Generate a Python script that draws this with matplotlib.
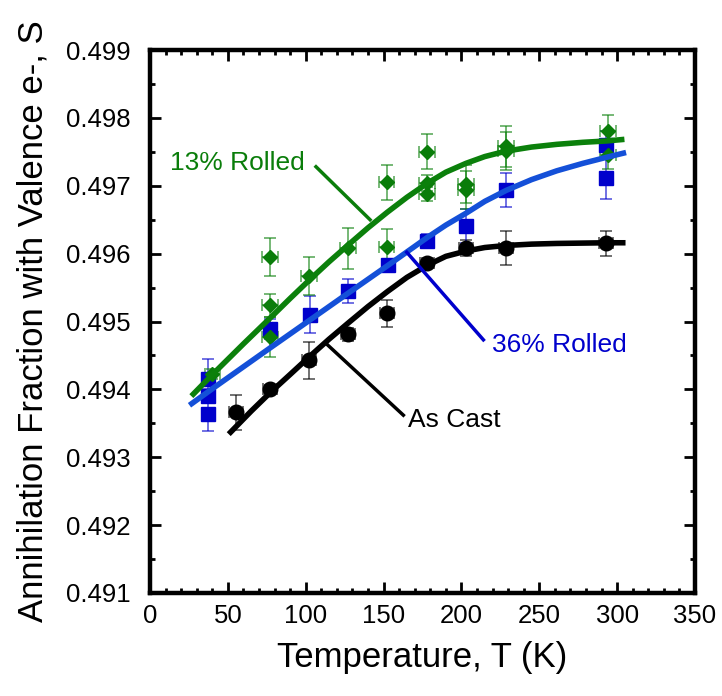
import numpy as np
import matplotlib
matplotlib.use('Agg')
import matplotlib.pyplot as plt
from matplotlib.ticker import MultipleLocator, FormatStrFormatter

plt.rcParams['font.family'] = ['Liberation Sans', 'DejaVu Sans']

# ---- measured points ----
# As Cast
cast_T = [55, 77, 102, 127, 152, 178, 203, 228.6, 293]
cast_S = [0.49366, 0.49400, 0.49443, 0.49481, 0.49512, 0.49586, 0.49608, 0.49608, 0.49615]
cast_yerr = [0.00026, 0.00006, 0.00027, 0.00009, 0.00020, 0.00007, 0.00012, 0.00025, 0.00019]

# 36% Rolled
r36_T = [37, 37, 37, 77, 103, 127, 153, 178, 203, 228.6, 293, 293]
r36_S = [0.49415, 0.49390, 0.49364, 0.49489, 0.49510, 0.49545, 0.49583, 0.49619,
         0.49641, 0.49694, 0.49760, 0.49711]
r36_yerr = [0.00030, 0.00010, 0.00026, 0.00015, 0.00027, 0.00018, 0.00008, 0.00010,
            0.00025, 0.00025, 0.00020, 0.00031]

# 13% Rolled
r13_T = [40, 77, 77, 77, 102, 127, 152, 152, 178, 178, 178, 203, 203, 228.6, 228.6, 294, 294]
r13_S = [0.49423, 0.49595, 0.49524, 0.49477, 0.49567, 0.49608, 0.49705, 0.49610,
         0.49750, 0.49704, 0.49688, 0.49703, 0.49694, 0.49758, 0.49751, 0.49781, 0.49745]
r13_yerr = [0.00007, 0.00028, 0.00017, 0.00030, 0.00028, 0.00030, 0.00026, 0.00027,
            0.00026, 0.00012, 0.00010, 0.00028, 0.00028, 0.00030, 0.00028, 0.00023, 0.00020]

# ---- fit curves ----
fit13_T = [27.8, 40.6, 60, 77.1, 90, 102.3, 115, 127.4, 140, 152.4, 165, 178.3, 190,
           202.9, 215, 228.6, 245, 261.2, 278, 293.3, 302.9]
fit13_S = [0.49393, 0.49423, 0.49467, 0.49505, 0.49534, 0.49561, 0.49588, 0.49613,
           0.49638, 0.49661, 0.49683, 0.49704, 0.49720, 0.49733, 0.49743, 0.49751,
           0.49757, 0.49761, 0.49764, 0.49766, 0.49768]

fit36_T = [26.8, 40.7, 77.1, 103.2, 127.4, 153.0, 178.2, 190, 203.3, 215, 228.6, 245,
           261.2, 278, 293.3, 304.0]
fit36_S = [0.49379, 0.49402, 0.49461, 0.49503, 0.49542, 0.49583, 0.49624, 0.49642,
           0.49660, 0.49677, 0.49693, 0.49709, 0.49722, 0.49733, 0.49742, 0.49748]

fitcast_T = [51.8, 65, 77.1, 90, 102.3, 115, 127.4, 140, 152.4, 165, 178.2, 190, 203.3,
             215, 228.6, 245, 261.2, 293.3, 303.6]
fitcast_S = [0.49337, 0.49368, 0.49395, 0.49422, 0.49448, 0.49474, 0.49498, 0.49522,
             0.49544, 0.49565, 0.49583, 0.49596, 0.49604, 0.49609, 0.49612, 0.49614,
             0.49615, 0.49616, 0.49616]

GREEN = '#0a7d0a'
BLUE = '#0000cc'
BLUE_FIT = '#1450d8'
BLACK = '#000000'

fig = plt.figure(figsize=(7.22, 6.96), dpi=100)
ax = fig.add_axes([150 / 722, 1 - 593 / 696, 545 / 722, 543 / 696])

# fits
ax.plot(fitcast_T, fitcast_S, color=BLACK, lw=4, zorder=4)
ax.plot(fit36_T, fit36_S, color=BLUE_FIT, lw=4, zorder=4)
ax.plot(fit13_T, fit13_S, color='#0b800b', lw=4, zorder=4)

# data with error bars
ax.errorbar(cast_T, cast_S, yerr=cast_yerr, xerr=4.5, fmt='o', ms=10.5,
            color=BLACK, ecolor=(0, 0, 0, 0.65), elinewidth=1.2, capsize=4.5,
            capthick=1.2, zorder=3)
ax.errorbar(r36_T, r36_S, yerr=r36_yerr, xerr=3.5, fmt='s', ms=10,
            color=BLUE, ecolor=(0, 0, 0.8, 0.65), elinewidth=1.2, capsize=4.5,
            capthick=1.2, zorder=3)
ax.errorbar(r13_T, r13_S, yerr=r13_yerr, xerr=5, fmt='D', ms=7.5,
            color=GREEN, ecolor=(0.04, 0.5, 0.04, 0.65), elinewidth=1.2, capsize=4.5,
            capthick=1.2, zorder=3)

# annotations
ax.text(12.8, 0.49723, '13% Rolled', color=GREEN, fontsize=19, ha='left', va='baseline')
ax.plot([106.6, 141.3], [0.49728, 0.49650], color=GREEN, lw=2.5, zorder=5)
ax.text(219.5, 0.49455, '36% Rolled', color=BLUE, fontsize=19, ha='left', va='baseline')
ax.plot([164.9, 214.1], [0.49602, 0.49473], color=BLUE, lw=2.5, zorder=5)
ax.text(165.9, 0.49345, 'As Cast', color=BLACK, fontsize=19, ha='left', va='baseline')
ax.plot([112.4, 162.7], [0.49469, 0.49362], color=BLACK, lw=2.5, zorder=5)

ax.set_xlim(0, 350)
ax.set_ylim(0.491, 0.499)
ax.xaxis.set_major_locator(MultipleLocator(50))
ax.xaxis.set_minor_locator(MultipleLocator(10))
ax.yaxis.set_major_locator(MultipleLocator(0.001))
ax.yaxis.set_minor_locator(MultipleLocator(0.0005))
ax.yaxis.set_major_formatter(FormatStrFormatter('%.3f'))

for s in ax.spines.values():
    s.set_linewidth(3.2)
ax.tick_params(which='both', direction='in', top=True, right=True, width=2)
ax.tick_params(which='major', length=8)
ax.tick_params(which='minor', length=3.6)
ax.tick_params(axis='x', which='major', labelsize=18.5, pad=8)
ax.tick_params(axis='y', which='major', labelsize=18.5, pad=14)

ax.set_xlabel('Temperature, T (K)', fontsize=25, labelpad=9)
ax.set_ylabel('Annihilation Fraction with Valence e-, S', fontsize=25, labelpad=12)

fig.savefig('out.png', dpi=100)
